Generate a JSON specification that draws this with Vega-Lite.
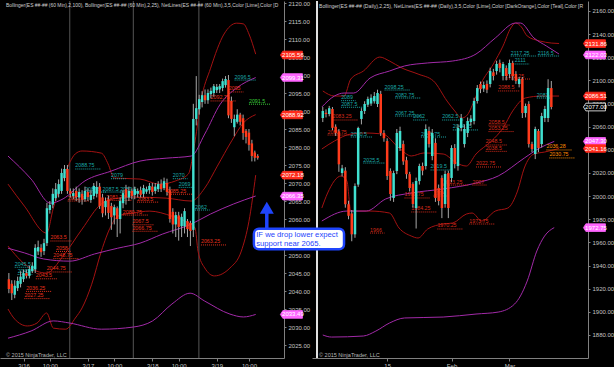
{
"$schema": "https://vega.github.io/schema/vega-lite/v6.json",
"background": "#000000",
"padding": 0,
"spacing": 28,
"bounds": "flush",
"config": {
  "view": {"stroke": null},
  "axis": {"domainColor": "#808080", "tickColor": "#808080", "labelColor": "#c4c4c4", "labelFont": "Liberation Sans", "labelFontSize": 6, "grid": false, "tickSize": 2, "labelPadding": 2, "labelOverlap": false},
  "text": {"font": "Liberation Sans"}
},
"datasets": {
  "lSess": [{"i": 20.8}, {"i": 42.5}, {"i": 64.9}],
  "lC": [
    {"i":0,"o":2043.3,"h":2045,"l":2039.4,"c":2040.6},{"i":1,"o":2042,"h":2043,"l":2037.5,"c":2039.4},{"i":2,"o":2039,"h":2043,"l":2038,"c":2041.5},{"i":3,"o":2040.8,"h":2044,"l":2040,"c":2042.8},{"i":4,"o":2042,"h":2045.5,"l":2041,"c":2044},{"i":5,"o":2043.3,"h":2046,"l":2042.5,"c":2045},{"i":6,"o":2045,"h":2046,"l":2043.5,"c":2044.2},{"i":7,"o":2044.2,"h":2047,"l":2043.5,"c":2046.1},{"i":8,"o":2045.5,"h":2048,"l":2045,"c":2047},{"i":9,"o":2046,"h":2053,"l":2045,"c":2052},
    {"i":10,"o":2051,"h":2054,"l":2050,"c":2052.2},{"i":11,"o":2052,"h":2053,"l":2049.5,"c":2050.8},{"i":12,"o":2051.1,"h":2054.5,"l":2050,"c":2053.3},{"i":13,"o":2053.3,"h":2064.5,"l":2052.5,"c":2063},{"i":14,"o":2062.5,"h":2065,"l":2061.5,"c":2063.9},{"i":15,"o":2064,"h":2068.5,"l":2063,"c":2067},{"i":16,"o":2065.8,"h":2070,"l":2065,"c":2068.3},{"i":17,"o":2067,"h":2071,"l":2066,"c":2069.7},{"i":18,"o":2067.8,"h":2074,"l":2067,"c":2072.8},{"i":19,"o":2071.4,"h":2075,"l":2070.5,"c":2073.9},
    {"i":20,"o":2073.9,"h":2075,"l":2067,"c":2067.8},{"i":21,"o":2067.8,"h":2068.5,"l":2066,"c":2067},{"i":22,"o":2066.4,"h":2068.5,"l":2065.5,"c":2067.2},{"i":23,"o":2067.8,"h":2069,"l":2065,"c":2066.1},{"i":24,"o":2066,"h":2068.5,"l":2064.5,"c":2067.5},{"i":25,"o":2067,"h":2068,"l":2064,"c":2065.4},{"i":26,"o":2065.5,"h":2069,"l":2064.8,"c":2067.8},{"i":27,"o":2067.5,"h":2068.5,"l":2065,"c":2066.1},{"i":28,"o":2065.3,"h":2068,"l":2064.5,"c":2066.7},{"i":29,"o":2066.4,"h":2070,"l":2065.5,"c":2069.2},
    {"i":30,"o":2067,"h":2070.5,"l":2066,"c":2068.9},{"i":31,"o":2069,"h":2070,"l":2062.8,"c":2063.6},{"i":32,"o":2066,"h":2067,"l":2060.5,"c":2061.6},{"i":33,"o":2063.3,"h":2066,"l":2061,"c":2065},{"i":34,"o":2065.5,"h":2066.5,"l":2060,"c":2061.7},{"i":35,"o":2063.6,"h":2064.5,"l":2057,"c":2060.5},{"i":36,"o":2061,"h":2064,"l":2058.5,"c":2063.3},{"i":37,"o":2063,"h":2063.5,"l":2055,"c":2060},{"i":38,"o":2060,"h":2066,"l":2056,"c":2065},{"i":39,"o":2064.4,"h":2068,"l":2063,"c":2067.2},
    {"i":40,"o":2068.3,"h":2069.5,"l":2064,"c":2066.1},{"i":41,"o":2066,"h":2069,"l":2065,"c":2067.8},{"i":42,"o":2067.8,"h":2068.5,"l":2065.5,"c":2066.4},{"i":43,"o":2066.7,"h":2069,"l":2065.5,"c":2068.3},{"i":44,"o":2067,"h":2068.5,"l":2066,"c":2067.8},{"i":45,"o":2068,"h":2069,"l":2066,"c":2066.7},{"i":46,"o":2067,"h":2069.5,"l":2066,"c":2068.6},{"i":47,"o":2067.6,"h":2069,"l":2067,"c":2068.3},{"i":48,"o":2068,"h":2070,"l":2067,"c":2069.2},{"i":49,"o":2069,"h":2070,"l":2066.5,"c":2067.5},
    {"i":50,"o":2067.8,"h":2070,"l":2067,"c":2069},{"i":51,"o":2068.3,"h":2070.5,"l":2067.5,"c":2069.7},{"i":52,"o":2069.7,"h":2071,"l":2067.5,"c":2068.3},{"i":53,"o":2068.6,"h":2071.5,"l":2068,"c":2070.5},{"i":54,"o":2070,"h":2071.2,"l":2066.5,"c":2067.5},{"i":55,"o":2068,"h":2069,"l":2059,"c":2060},{"i":56,"o":2062,"h":2063,"l":2056,"c":2058.5},{"i":57,"o":2058.5,"h":2062,"l":2055,"c":2061.1},{"i":58,"o":2061,"h":2062,"l":2054,"c":2057.8},{"i":59,"o":2058,"h":2061.5,"l":2055,"c":2060.6},
    {"i":60,"o":2058,"h":2063,"l":2056,"c":2062.2},{"i":61,"o":2059.4,"h":2060,"l":2055,"c":2057.2},{"i":62,"o":2058.9,"h":2059.5,"l":2052.5,"c":2056.7},{"i":63,"o":2057,"h":2092,"l":2055,"c":2087.8},{"i":64,"o":2087.8,"h":2099.7,"l":2086,"c":2090.8},{"i":65,"o":2090.5,"h":2094.5,"l":2089,"c":2093.3},{"i":66,"o":2092.5,"h":2095.5,"l":2091,"c":2094.4},{"i":67,"o":2094.4,"h":2096,"l":2092,"c":2093},{"i":68,"o":2093,"h":2096,"l":2092,"c":2095},{"i":69,"o":2094.7,"h":2096.5,"l":2093.5,"c":2095.6},
    {"i":70,"o":2095,"h":2097.5,"l":2094,"c":2096.9},{"i":71,"o":2095.8,"h":2097.5,"l":2095,"c":2096.7},{"i":72,"o":2096,"h":2097.5,"l":2095,"c":2096.9},{"i":73,"o":2096.4,"h":2099,"l":2095.5,"c":2098.3},{"i":74,"o":2097.2,"h":2099.7,"l":2096.5,"c":2098.9},{"i":75,"o":2098.6,"h":2100,"l":2088,"c":2088.8},{"i":76,"o":2092.8,"h":2094,"l":2086.7,"c":2087.8},{"i":77,"o":2085.5,"h":2089,"l":2083,"c":2087.8},{"i":78,"o":2087,"h":2090.5,"l":2086.5,"c":2089},{"i":79,"o":2089,"h":2089.5,"l":2086,"c":2087},
    {"i":80,"o":2088,"h":2089,"l":2082,"c":2083.9},{"i":81,"o":2084.5,"h":2085,"l":2081,"c":2082.8},{"i":82,"o":2084,"h":2085,"l":2079,"c":2080.6},{"i":83,"o":2081,"h":2082,"l":2076,"c":2077.5},{"i":84,"o":2078.5,"h":2079,"l":2076,"c":2077},{"i":85,"o":2077.5,"h":2078,"l":2076.5,"c":2077}
  ],
  "lBands": [
    {"b":"u25","i":-0.3,"p":2069.7},{"b":"u25","i":5.3,"p":2063.6},{"b":"u25","i":12.9,"p":2056.1},{"b":"u25","i":15.2,"p":2063.1},{"b":"u25","i":19.1,"p":2072.5},{"b":"u25","i":22.7,"p":2078.1},{"b":"u25","i":25,"p":2078.9},{"b":"u25","i":31.6,"p":2078.3},{"b":"u25","i":33.9,"p":2075.3},{"b":"u25","i":35.9,"p":2071.4},{"b":"u25","i":44.8,"p":2071.1},{"b":"u25","i":51.4,"p":2069.7},{"b":"u25","i":57,"p":2070.6},{"b":"u25","i":61.3,"p":2072.5},{"b":"u25","i":63.6,"p":2081.7},{"b":"u25","i":65.6,"p":2092.8},{"b":"u25","i":68.9,"p":2101.9},{"b":"u25","i":73.5,"p":2111.4},{"b":"u25","i":77.8,"p":2114.4},{"b":"u25","i":80.1,"p":2114.2},{"b":"u25","i":82,"p":2111.4},{"b":"u25","i":84.3,"p":2105.8},
    {"b":"m25","i":-0.3,"p":2052.5},{"b":"m25","i":6.3,"p":2046.9},{"b":"m25","i":12.9,"p":2045},{"b":"m25","i":18.5,"p":2049.7},{"b":"m25","i":25,"p":2057.2},{"b":"m25","i":31.6,"p":2064.2},{"b":"m25","i":37.2,"p":2065.8},{"b":"m25","i":42.5,"p":2066.1},{"b":"m25","i":53.7,"p":2065.8},{"b":"m25","i":62.3,"p":2065},{"b":"m25","i":66.9,"p":2068.6},{"b":"m25","i":71.2,"p":2074.7},{"b":"m25","i":76.1,"p":2081.7},{"b":"m25","i":80.1,"p":2086.7},{"b":"m25","i":84.3,"p":2089},
    {"b":"l25","i":-0.3,"p":2035},{"b":"l25","i":2,"p":2032.2},{"b":"l25","i":6.3,"p":2030.3},{"b":"l25","i":9.6,"p":2031.1},{"b":"l25","i":12.9,"p":2033.9},{"b":"l25","i":15.2,"p":2029.7},{"b":"l25","i":19.4,"p":2029.4},{"b":"l25","i":22.7,"p":2032.5},{"b":"l25","i":25,"p":2035.3},{"b":"l25","i":28.3,"p":2041.9},{"b":"l25","i":31.6,"p":2051.1},{"b":"l25","i":34.9,"p":2058.1},{"b":"l25","i":37.2,"p":2060.8},{"b":"l25","i":42.5,"p":2061.7},{"b":"l25","i":48.1,"p":2062.2},{"b":"l25","i":55.7,"p":2060.8},{"b":"l25","i":60.3,"p":2059.4},{"b":"l25","i":63.6,"p":2057.5},{"b":"l25","i":64.6,"p":2051.1},{"b":"l25","i":66.9,"p":2046.4},{"b":"l25","i":70.2,"p":2044.2},{"b":"l25","i":75.5,"p":2046.4},{"b":"l25","i":79.4,"p":2051.1},{"b":"l25","i":82,"p":2059.4},{"b":"l25","i":84.3,"p":2072.2},
    {"b":"u100","i":-0.3,"p":2077.5},{"b":"u100","i":7.6,"p":2071.1},{"b":"u100","i":14.2,"p":2064.4},{"b":"u100","i":18.5,"p":2065.6},{"b":"u100","i":26,"p":2070.6},{"b":"u100","i":34.9,"p":2073.3},{"b":"u100","i":44.8,"p":2076.1},{"b":"u100","i":53.7,"p":2076.9},{"b":"u100","i":62.3,"p":2077.5},{"b":"u100","i":66.9,"p":2083.6},{"b":"u100","i":72.2,"p":2091.9},{"b":"u100","i":77.8,"p":2096.4},{"b":"u100","i":84.3,"p":2099.3},
    {"b":"m100","i":-0.3,"p":2051.9},{"b":"m100","i":5.3,"p":2050.6},{"b":"m100","i":11.9,"p":2048.9},{"b":"m100","i":20.8,"p":2048.3},{"b":"m100","i":29.3,"p":2050.3},{"b":"m100","i":37.2,"p":2051.9},{"b":"m100","i":44.8,"p":2053.3},{"b":"m100","i":52.4,"p":2055.8},{"b":"m100","i":62.3,"p":2058.6},{"b":"m100","i":68.9,"p":2061.4},{"b":"m100","i":76.8,"p":2064.2},{"b":"m100","i":84.3,"p":2066.4},
    {"b":"l100","i":-0.3,"p":2026.9},{"b":"l100","i":7.6,"p":2028.9},{"b":"l100","i":15.2,"p":2031.7},{"b":"l100","i":20.8,"p":2031.1},{"b":"l100","i":31.6,"p":2029.4},{"b":"l100","i":42.5,"p":2030},{"b":"l100","i":49.1,"p":2031.7},{"b":"l100","i":55.7,"p":2036.4},{"b":"l100","i":61.9,"p":2039.4},{"b":"l100","i":66.9,"p":2037.2},{"b":"l100","i":75.5,"p":2033.6},{"b":"l100","i":80.1,"p":2032.8},{"b":"l100","i":84.3,"p":2033.5}
  ],
  "lNet": [
    {"i":77.1,"i2":84.4,"p":2098.6,"t":"2096.5","k":"teal"},{"i":22.7,"i2":31.3,"p":2073.9,"t":"2088.75","k":"teal"},{"i":26,"i2":33.3,"p":2067.5,"t":"2087.5","k":"teal"},{"i":32,"i2":39.3,"p":2067.5,"t":"2087.5","k":"teal"},{"i":38,"i2":45.3,"p":2067.5,"t":"2087.5","k":"teal"},{"i":34.9,"i2":39.9,"p":2071.2,"t":"2079","k":"teal"},{"i":56,"i2":61,"p":2071.2,"t":"2070","k":"teal"},{"i":58,"i2":63.5,"p":2068.8,"t":"2069","k":"teal"},{"i":63.6,"i2":68.6,"p":2062.5,"t":"2062","k":"teal"},{"i":2,"i2":9.3,"p":2046.6,"t":"2045.5","k":"teal"},{"i":3,"i2":8,"p":2044.6,"t":"2043","k":"teal"},
    {"i":75.1,"i2":80.1,"p":2095.3,"t":"2095","k":"red"},{"i":68.9,"i2":77.5,"p":2092.8,"t":"2092.75","k":"red"},{"i":20.1,"i2":27.4,"p":2065,"t":"2082.5","k":"red"},{"i":33.3,"i2":41.9,"p":2065.2,"t":"2081.75","k":"red"},{"i":43.8,"i2":51.1,"p":2064.7,"t":"2083.5","k":"red"},{"i":54,"i2":62.6,"p":2066.9,"t":"2085.25","k":"red"},{"i":38.9,"i2":47.5,"p":2061.1,"t":"2080.75","k":"red"},{"i":42.2,"i2":49.5,"p":2058.4,"t":"2067.5","k":"red"},{"i":42.2,"i2":50.8,"p":2056.6,"t":"2066.75","k":"red"},{"i":65.6,"i2":74.2,"p":2052.8,"t":"2063.25","k":"red"},{"i":14.2,"i2":21.5,"p":2053.9,"t":"2063.5","k":"red"},{"i":16.1,"i2":21.1,"p":2051,"t":"2058","k":"red"},{"i":15.2,"i2":23.8,"p":2049,"t":"2048.75","k":"red"},{"i":12.9,"i2":21.5,"p":2045.3,"t":"2044.75","k":"red"},{"i":9.2,"i2":16.5,"p":2043.4,"t":"2043.5","k":"red"},{"i":5.9,"i2":14.5,"p":2039.9,"t":"2036.25","k":"red"},{"i":5.3,"i2":13.9,"p":2037.9,"t":"2027.25","k":"red"},
    {"i":82,"i2":89.3,"p":2091.9,"t":"2091.5","k":"green"}
  ],
  "lTags": [
    {"p":2105.56,"t":"2105.56","k":"red"},{"p":2099.31,"t":"2099.31","k":"pink"},{"p":2088.92,"t":"2088.92","k":"red"},{"p":2072.18,"t":"2072.18","k":"red"},{"p":2066.35,"t":"2066.35","k":"pink"},{"p":2033.49,"t":"2033.49","k":"pink"}
  ],
  "rC": [
    {"i":0,"o":2067.5,"h":2077,"l":2064,"c":2073.6},{"i":1,"o":2072,"h":2075,"l":2068,"c":2071},{"i":2,"o":2071,"h":2078,"l":2069,"c":2076},{"i":3,"o":2075.3,"h":2077,"l":2057,"c":2059},{"i":4,"o":2060,"h":2062,"l":2052,"c":2054.6},{"i":5,"o":2056,"h":2058,"l":2021,"c":2027.5},{"i":6,"o":2020,"h":2027,"l":2017,"c":2024},{"i":7,"o":2022,"h":2025,"l":1990,"c":1993},{"i":8,"o":1993,"h":1996,"l":1980,"c":1983},{"i":9,"o":1985,"h":1988,"l":1961,"c":1967},
    {"i":10,"o":1967,"h":2011,"l":1964,"c":2008.7},{"i":11,"o":2010,"h":2060,"l":2008,"c":2058.9},{"i":12,"o":2066.7,"h":2076,"l":2062,"c":2073.6},{"i":13,"o":2073.6,"h":2082,"l":2071,"c":2079.6},{"i":14,"o":2079,"h":2086,"l":2077,"c":2084},{"i":15,"o":2080,"h":2088,"l":2078,"c":2085},{"i":16,"o":2082,"h":2090,"l":2080,"c":2086.5},{"i":17,"o":2079.6,"h":2092,"l":2077,"c":2089.1},{"i":18,"o":2088.3,"h":2091,"l":2052,"c":2054.6},{"i":19,"o":2054.6,"h":2057,"l":2047,"c":2050},
    {"i":20,"o":2047.6,"h":2050,"l":2014,"c":2017.4},{"i":21,"o":2021.7,"h":2024,"l":1996,"c":2001.8},{"i":22,"o":1998.4,"h":2022,"l":1995,"c":2019.9},{"i":23,"o":2021.7,"h":2058,"l":2019,"c":2054.6},{"i":24,"o":2041.6,"h":2060,"l":2039,"c":2056.3},{"i":25,"o":2045,"h":2048,"l":2027,"c":2030},{"i":26,"o":2031,"h":2034,"l":2015,"c":2019},{"i":27,"o":2019,"h":2021,"l":2004,"c":2007},{"i":28,"o":2010.5,"h":2012,"l":1990,"c":1993.2},{"i":29,"o":1989.7,"h":2016,"l":1972,"c":2013.1},
    {"i":30,"o":2013,"h":2028,"l":2010,"c":2026},{"i":31,"o":2026,"h":2029,"l":2018,"c":2022},{"i":32,"o":2026,"h":2062,"l":2023,"c":2058},{"i":33,"o":2056.3,"h":2060,"l":2042,"c":2045},{"i":34,"o":2034.7,"h":2058,"l":2031,"c":2054.6},{"i":35,"o":2046,"h":2050,"l":1995,"c":1998.4},{"i":36,"o":2007,"h":2010,"l":1992,"c":1995.8},{"i":37,"o":2015.7,"h":2018,"l":1981,"c":1989.7},{"i":38,"o":1993.2,"h":2022,"l":1990,"c":2019.1},{"i":39,"o":2019.9,"h":2022,"l":1981,"c":1989.7},
    {"i":40,"o":2015.7,"h":2044,"l":2012,"c":2041.6},{"i":41,"o":2041.6,"h":2045,"l":2024,"c":2027.7},{"i":42,"o":2026,"h":2062,"l":2022,"c":2058.9},{"i":43,"o":2058.9,"h":2071,"l":2056,"c":2067.5},{"i":44,"o":2045,"h":2062,"l":2042,"c":2058},{"i":45,"o":2054.6,"h":2068,"l":2051,"c":2064.9},{"i":46,"o":2064,"h":2070,"l":2061,"c":2067},{"i":47,"o":2064.9,"h":2085,"l":2062,"c":2082.2},{"i":48,"o":2082.2,"h":2096,"l":2080,"c":2093.4},{"i":49,"o":2096.9,"h":2099,"l":2089,"c":2092.5},
    {"i":50,"o":2093,"h":2099,"l":2090,"c":2096},{"i":51,"o":2097,"h":2100,"l":2089,"c":2092},{"i":52,"o":2096.9,"h":2111,"l":2094,"c":2108.1},{"i":53,"o":2107,"h":2110,"l":2100,"c":2103.8},{"i":54,"o":2108.1,"h":2117,"l":2105,"c":2114.2},{"i":55,"o":2115.1,"h":2118,"l":2107,"c":2110.7},{"i":56,"o":2103.8,"h":2116,"l":2100,"c":2114.2},{"i":57,"o":2110.7,"h":2113,"l":2100,"c":2103.8},{"i":58,"o":2105.5,"h":2118,"l":2102,"c":2115.1},{"i":59,"o":2115.1,"h":2117,"l":2100,"c":2103.8},
    {"i":60,"o":2105.5,"h":2108,"l":2097,"c":2099.5},{"i":61,"o":2096.9,"h":2103,"l":2094,"c":2101.2},{"i":62,"o":2101.2,"h":2103,"l":2067.5,"c":2071.8},{"i":63,"o":2071.8,"h":2080,"l":2068,"c":2077.9},{"i":64,"o":2079.6,"h":2082,"l":2042,"c":2045},{"i":65,"o":2045,"h":2047,"l":2038,"c":2040.7},{"i":66,"o":2036.4,"h":2060,"l":2032,"c":2058},{"i":67,"o":2056.3,"h":2058,"l":2038,"c":2041.6},{"i":68,"o":2045,"h":2072,"l":2042,"c":2069.2},{"i":69,"o":2067.5,"h":2078,"l":2064,"c":2075.3},
    {"i":70,"o":2067.5,"h":2101,"l":2064,"c":2093.4},{"i":71,"o":2093.4,"h":2099.5,"l":2075,"c":2077}
  ],
  "rBands": [
    {"b":"u25","i":0,"p":2090.9},{"b":"u25","i":3.6,"p":2086.5},{"b":"u25","i":6.6,"p":2086.5},{"b":"u25","i":8.7,"p":2101.2},{"b":"u25","i":12.6,"p":2108.1},{"b":"u25","i":17.7,"p":2120.2},{"b":"u25","i":20.7,"p":2116.8},{"b":"u25","i":24.6,"p":2110.7},{"b":"u25","i":29.6,"p":2105.5},{"b":"u25","i":34.4,"p":2099.5},{"b":"u25","i":38.6,"p":2082.2},{"b":"u25","i":41,"p":2073.6},{"b":"u25","i":43.1,"p":2067.5},{"b":"u25","i":44.6,"p":2069.2},{"b":"u25","i":47,"p":2082.2},{"b":"u25","i":49.1,"p":2096.9},{"b":"u25","i":53,"p":2114.2},{"b":"u25","i":56,"p":2129.8},{"b":"u25","i":58.4,"p":2145.3},{"b":"u25","i":59.9,"p":2149.6},{"b":"u25","i":61.7,"p":2146.2},{"b":"u25","i":63.5,"p":2138.4},{"b":"u25","i":67.4,"p":2134.1},{"b":"u25","i":71,"p":2132.3},{"b":"u25","i":73.4,"p":2131.9},
    {"b":"m25","i":-0.3,"p":2040.7},{"b":"m25","i":3.6,"p":2047.6},{"b":"m25","i":8.7,"p":2053.7},{"b":"m25","i":12.6,"p":2054.6},{"b":"m25","i":18.6,"p":2053.7},{"b":"m25","i":23.7,"p":2041.6},{"b":"m25","i":27.5,"p":2034.7},{"b":"m25","i":31.4,"p":2037.3},{"b":"m25","i":37.4,"p":2036.4},{"b":"m25","i":41.6,"p":2028.6},{"b":"m25","i":44.6,"p":2026},{"b":"m25","i":47.6,"p":2036.4},{"b":"m25","i":52.4,"p":2047.6},{"b":"m25","i":56,"p":2058.9},{"b":"m25","i":59,"p":2073.6},{"b":"m25","i":62.9,"p":2084.8},{"b":"m25","i":68,"p":2086.5},{"b":"m25","i":73.4,"p":2086.5},
    {"b":"l25","i":-0.3,"p":1989.7},{"b":"l25","i":1.5,"p":2002.7},{"b":"l25","i":5.7,"p":2017.4},{"b":"l25","i":7.5,"p":2013.1},{"b":"l25","i":8.7,"p":1987.1},{"b":"l25","i":14.7,"p":1987.1},{"b":"l25","i":20.7,"p":1985.4},{"b":"l25","i":23.7,"p":1972.4},{"b":"l25","i":27.5,"p":1965.5},{"b":"l25","i":29.6,"p":1963.8},{"b":"l25","i":32.6,"p":1971.6},{"b":"l25","i":37.4,"p":1975.9},{"b":"l25","i":40.4,"p":1976.8},{"b":"l25","i":44.6,"p":1984.5},{"b":"l25","i":46.4,"p":1985.4},{"b":"l25","i":49.4,"p":1978.5},{"b":"l25","i":53.6,"p":1987.1},{"b":"l25","i":57.5,"p":1989.7},{"b":"l25","i":60.5,"p":2004.4},{"b":"l25","i":62.6,"p":2024.3},{"b":"l25","i":65.6,"p":2036.4},{"b":"l25","i":68.9,"p":2038.1},{"b":"l25","i":73.4,"p":2041.2},
    {"b":"u100","i":-0.3,"p":2077},{"b":"u100","i":3.6,"p":2086.5},{"b":"u100","i":6.6,"p":2089.1},{"b":"u100","i":9.6,"p":2089.1},{"b":"u100","i":14.7,"p":2102.1},{"b":"u100","i":20.7,"p":2108.1},{"b":"u100","i":25.4,"p":2112.5},{"b":"u100","i":32.6,"p":2115.1},{"b":"u100","i":40.4,"p":2116.8},{"b":"u100","i":47.6,"p":2122.8},{"b":"u100","i":53.6,"p":2136.7},{"b":"u100","i":59.9,"p":2149.6},{"b":"u100","i":61.4,"p":2149.6},{"b":"u100","i":65.6,"p":2136.7},{"b":"u100","i":69.5,"p":2129.7},{"b":"u100","i":73.4,"p":2122.8},
    {"b":"m100","i":-0.3,"p":1978.5},{"b":"m100","i":7.5,"p":1987.1},{"b":"m100","i":13.5,"p":1987.1},{"b":"m100","i":19.5,"p":1997.5},{"b":"m100","i":27.5,"p":2002.7},{"b":"m100","i":37.4,"p":2006.2},{"b":"m100","i":47.6,"p":2011.3},{"b":"m100","i":54.5,"p":2017.4},{"b":"m100","i":62.6,"p":2032.9},{"b":"m100","i":67.4,"p":2041.6},{"b":"m100","i":71.9,"p":2047.3},
    {"b":"l100","i":0,"p":1880},{"b":"l100","i":2.7,"p":1878.2},{"b":"l100","i":12.6,"p":1879.1},{"b":"l100","i":16.5,"p":1883.4},{"b":"l100","i":20.7,"p":1890.3},{"b":"l100","i":25.4,"p":1894.7},{"b":"l100","i":37.4,"p":1895.5},{"b":"l100","i":47.6,"p":1898.1},{"b":"l100","i":54.5,"p":1899.8},{"b":"l100","i":59.6,"p":1906.8},{"b":"l100","i":61.4,"p":1913.7},{"b":"l100","i":63.5,"p":1926.6},{"b":"l100","i":66.5,"p":1952.6},{"b":"l100","i":68.9,"p":1965.5},{"b":"l100","i":71.9,"p":1972.8}
  ],
  "rNet": [
    {"i":58.4,"i2":66.2,"p":2121.1,"t":"2117.25","k":"teal"},{"i":66.8,"i2":73.4,"p":2121.1,"t":"2116.5","k":"teal"},{"i":59.6,"i2":64.1,"p":2114.2,"t":"2111","k":"teal"},{"i":19.2,"i2":27,"p":2091.7,"t":"2098.25","k":"teal"},{"i":22.5,"i2":30.3,"p":2084.8,"t":"2082.75","k":"teal"},{"i":5.7,"i2":10.2,"p":2082.5,"t":"2089","k":"teal"},{"i":5.7,"i2":12.3,"p":2076.8,"t":"2087.5","k":"teal"},{"i":22.5,"i2":30.3,"p":2069.2,"t":"2067.25","k":"teal"},{"i":28.1,"i2":32.6,"p":2065.8,"t":"2062","k":"teal"},{"i":37.1,"i2":43.7,"p":2065.8,"t":"2062.5","k":"teal"},{"i":66.5,"i2":71,"p":2084.8,"t":"2081","k":"teal"},{"i":8.7,"i2":15.3,"p":2051.1,"t":"2050.5","k":"teal"},{"i":30.5,"i2":38.3,"p":2051.1,"t":"2046.75","k":"teal"},{"i":40.4,"i2":48.2,"p":2057.2,"t":"2044.75","k":"teal"},{"i":12.6,"i2":19.2,"p":2028.6,"t":"2025.5","k":"teal"},{"i":33.5,"i2":40.1,"p":2022.6,"t":"2019.5","k":"teal"},
    {"i":56.6,"i2":64.4,"p":2101.2,"t":"2102.25","k":"red"},{"i":54.5,"i2":61.1,"p":2090.9,"t":"2088.5","k":"red"},{"i":3,"i2":10.8,"p":2065.8,"t":"2083.25","k":"red"},{"i":1.5,"i2":9.3,"p":2052.8,"t":"2053.75","k":"red"},{"i":51.5,"i2":58.1,"p":2061.4,"t":"2058.5","k":"red"},{"i":51.5,"i2":59.3,"p":2055.8,"t":"2053.25","k":"red"},{"i":50.6,"i2":57.2,"p":2044.2,"t":"2048.5","k":"red"},{"i":50.6,"i2":57.2,"p":2038.7,"t":"2038.5","k":"red"},{"i":47.6,"i2":55.4,"p":2025.2,"t":"2022.75","k":"red"},{"i":37.4,"i2":45.2,"p":2009.6,"t":"2013.25","k":"red"},{"i":46.5,"i2":51,"p":2009.6,"t":"2007","k":"red"},{"i":25.4,"i2":33.2,"p":1998.4,"t":"1990.75","k":"red"},{"i":34.4,"i2":38.9,"p":2000.1,"t":"1994","k":"red"},{"i":27.5,"i2":35.3,"p":1986.3,"t":"1984.25","k":"red"},{"i":35.6,"i2":43.4,"p":1971.6,"t":"1970.25","k":"red"},{"i":45.5,"i2":53.3,"p":1975.9,"t":"1973.75","k":"red"},{"i":14.7,"i2":19.2,"p":1968.1,"t":"1966","k":"red"},
    {"i":69.5,"i2":77.3,"p":2039.9,"t":"2036.28","k":"orange"},{"i":70.4,"i2":78.2,"p":2033,"t":"2030.75","k":"orange"}
  ],
  "rTags": [
    {"p":2131.86,"t":"2131.86","k":"red"},{"p":2122.03,"t":"2122.03","k":"pink"},{"p":2086.51,"t":"2086.51","k":"red"},{"p":2077.0,"t":"2077.00","k":"black"},{"p":2047.3,"t":"2047.30","k":"pink"},{"p":2041.16,"t":"2041.16","k":"red"},{"p":1972.75,"t":"1972.75","k":"pink"}
  ]
},
"hconcat": [
  {
    "width": 284, "height": 357,
    "resolve": {"scale": {"color": "independent", "fill": "independent", "stroke": "independent"}},
    "layer": [
      {"data": {"name": "lSess"}, "mark": {"type": "rule", "color": "#555555", "strokeWidth": 1},
       "encoding": {"x": {"field": "i", "type": "quantitative", "scale": {"domain": [-1.32, 92.26], "nice": false, "zero": false},
         "axis": {"orient": "bottom", "title": null, "values": [5,14,27,36,49,58,71,82], "tickCount": 40, "labelExpr": "['3/16','10:00','3/17','10:00','3/18','10:00','3/19','10:00'][indexof([5,14,27,36,49,58,71,82], datum.value)]", "tickSize": 3, "labelPadding": 1, "labelOverlap": false}}}},
      {"data": {"name": "lBands"}, "mark": {"type": "line", "strokeWidth": 1, "interpolate": "monotone"},
       "encoding": {"x": {"field": "i", "type": "quantitative", "scale": {"domain": [-1.32, 92.26], "nice": false, "zero": false}},
         "y": {"field": "p", "type": "quantitative", "scale": {"domain": [2021.4, 2120.56], "nice": false, "zero": false},
           "axis": {"orient": "right", "title": null, "format": ".2f", "tickCount": 40, "labelOverlap": false, "labelFlush": false, "values": [2025,2030,2035,2040,2045,2050,2055,2060,2065,2070,2075,2080,2085,2090,2095,2100,2105,2110,2115,2120]}},
         "color": {"field": "b", "type": "nominal", "legend": null, "scale": {"domain": ["u25","m25","l25","u100","m100","l100"], "range": ["#a31212","#a31212","#a31212","#a22aa8","#a22aa8","#a22aa8"]}}}},
      {"data": {"name": "lNet"}, "mark": {"type": "rule", "strokeDash": [1, 1], "strokeWidth": 1},
       "encoding": {"x": {"field": "i", "type": "quantitative", "scale": {"domain": [-1.32, 92.26], "nice": false, "zero": false}}, "x2": {"field": "i2"},
         "y": {"field": "p", "type": "quantitative", "scale": {"domain": [2021.4, 2120.56], "nice": false, "zero": false}},
         "color": {"field": "k", "type": "nominal", "legend": null, "scale": {"domain": ["teal","red","green","orange"], "range": ["#1aa8a8","#e5301c","#3ad13a","#ff8c00"]}}}},
      {"data": {"name": "lNet"}, "mark": {"type": "text", "align": "left", "baseline": "bottom", "fontSize": 5.3, "dy": -0.5},
       "encoding": {"x": {"field": "i", "type": "quantitative", "scale": {"domain": [-1.32, 92.26], "nice": false, "zero": false}},
         "y": {"field": "p", "type": "quantitative", "scale": {"domain": [2021.4, 2120.56], "nice": false, "zero": false}},
         "text": {"field": "t"},
         "color": {"field": "k", "type": "nominal", "legend": null, "scale": {"domain": ["teal","red","green","orange"], "range": ["#1aa8a8","#e5301c","#3ad13a","#ff8c00"]}}}},
      {"data": {"name": "lC"}, "mark": {"type": "rule", "color": "#a8a8a8", "strokeWidth": 1},
       "encoding": {"x": {"field": "i", "type": "quantitative", "scale": {"domain": [-1.32, 92.26], "nice": false, "zero": false}},
         "y": {"field": "l", "type": "quantitative", "scale": {"domain": [2021.4, 2120.56], "nice": false, "zero": false}}, "y2": {"field": "h"}}},
      {"data": {"name": "lC"}, "mark": {"type": "bar", "width": 2.4, "orient": "vertical"},
       "encoding": {"x": {"field": "i", "type": "quantitative", "scale": {"domain": [-1.32, 92.26], "nice": false, "zero": false}},
         "y": {"field": "o", "type": "quantitative", "scale": {"domain": [2021.4, 2120.56], "nice": false, "zero": false}}, "y2": {"field": "c"},
         "color": {"condition": {"test": "datum.c >= datum.o", "value": "#40e0d0"}, "value": "#ff3b1c"}}},
      {"data": {"name": "lTags"}, "mark": {"type": "point", "shape": "M-1,0L-0.78,-0.35L1,-0.35L1,0.35L-0.78,0.35Z", "size": 484, "filled": true, "opacity": 1, "strokeWidth": 0.8},
       "encoding": {"x": {"datum": 96.5, "type": "quantitative", "scale": {"domain": [-1.32, 92.26], "nice": false, "zero": false}},
         "y": {"field": "p", "type": "quantitative", "scale": {"domain": [2021.4, 2120.56], "nice": false, "zero": false}},
         "fill": {"field": "k", "type": "nominal", "legend": null, "scale": {"domain": ["red","pink","black"], "range": ["#ff2b1c","#ff66ff","#000000"]}},
         "stroke": {"field": "k", "type": "nominal", "legend": null, "scale": {"domain": ["red","pink","black"], "range": ["#ff2b1c","#ff66ff","#ffffff"]}}}},
      {"data": {"name": "lTags"}, "mark": {"type": "text", "fontSize": 6, "color": "#ffffff", "align": "center", "baseline": "middle", "dx": 1.5},
       "encoding": {"x": {"datum": 96.5, "type": "quantitative", "scale": {"domain": [-1.32, 92.26], "nice": false, "zero": false}},
         "y": {"field": "p", "type": "quantitative", "scale": {"domain": [2021.4, 2120.56], "nice": false, "zero": false}},
         "text": {"field": "t"}}},
      {"data": {"values": [{"t": "Bollinger(ES ##-## (60 Min),2,100), Bollinger(ES ##-## (60 Min),2,25), NetLines(ES ##-## (60 Min),3,5,Color [Lime],Color [D"}]},
       "mark": {"type": "text", "align": "left", "baseline": "middle", "fontSize": 4.95, "color": "#d0d0d0", "clip": true, "dx": 1},
       "encoding": {"x": {"datum": -1.32, "type": "quantitative", "scale": {"domain": [-1.32, 92.26], "nice": false, "zero": false}},
         "y": {"datum": 2119.2, "type": "quantitative", "scale": {"domain": [2021.4, 2120.56], "nice": false, "zero": false}},
         "text": {"field": "t"}}},
      {"data": {"values": [{"t": "© 2015 NinjaTrader, LLC"}]},
       "mark": {"type": "text", "align": "left", "baseline": "middle", "fontSize": 5.5, "color": "#b8b8b8", "dx": 1},
       "encoding": {"x": {"datum": -1.32, "type": "quantitative", "scale": {"domain": [-1.32, 92.26], "nice": false, "zero": false}},
         "y": {"datum": 2022.3, "type": "quantitative", "scale": {"domain": [2021.4, 2120.56], "nice": false, "zero": false}},
         "text": {"field": "t"}}}
    ]
  },
  {
    "width": 276, "height": 357,
    "resolve": {"scale": {"color": "independent", "fill": "independent", "stroke": "independent"}},
    "layer": [
      {"data": {"values": [{}]}, "mark": {"type": "rule", "color": "#e0e0e0", "strokeWidth": 2},
       "encoding": {"x": {"datum": -1.8, "type": "quantitative", "scale": {"domain": [-1.8, 80.84], "nice": false, "zero": false},
         "axis": {"orient": "bottom", "title": null, "values": [20,40,58], "tickCount": 40, "labelExpr": "['15','Feb','Mar'][indexof([20,40,58], datum.value)]", "tickSize": 3, "labelPadding": 1, "labelOverlap": false}}}},
      {"data": {"name": "rBands"}, "mark": {"type": "line", "strokeWidth": 1, "interpolate": "monotone"},
       "encoding": {"x": {"field": "i", "type": "quantitative", "scale": {"domain": [-1.8, 80.84], "nice": false, "zero": false}},
         "y": {"field": "p", "type": "quantitative", "scale": {"domain": [1860.1, 2168.64], "nice": false, "zero": false},
           "axis": {"orient": "right", "title": null, "format": ".2f", "tickCount": 40, "labelOverlap": false, "labelFlush": false, "values": [1880,1900,1920,1940,1960,1980,2000,2020,2040,2060,2080,2100,2120,2140,2160]}},
         "color": {"field": "b", "type": "nominal", "legend": null, "scale": {"domain": ["u25","m25","l25","u100","m100","l100"], "range": ["#a31212","#a31212","#a31212","#a22aa8","#a22aa8","#a22aa8"]}}}},
      {"data": {"name": "rNet"}, "mark": {"type": "rule", "strokeDash": [1, 1], "strokeWidth": 1},
       "encoding": {"x": {"field": "i", "type": "quantitative", "scale": {"domain": [-1.8, 80.84], "nice": false, "zero": false}}, "x2": {"field": "i2"},
         "y": {"field": "p", "type": "quantitative", "scale": {"domain": [1860.1, 2168.64], "nice": false, "zero": false}},
         "color": {"field": "k", "type": "nominal", "legend": null, "scale": {"domain": ["teal","red","green","orange"], "range": ["#1aa8a8","#d42a1a","#3ad13a","#ff8c00"]}}}},
      {"data": {"name": "rNet"}, "mark": {"type": "text", "align": "left", "baseline": "bottom", "fontSize": 5.3, "dy": -0.5},
       "encoding": {"x": {"field": "i", "type": "quantitative", "scale": {"domain": [-1.8, 80.84], "nice": false, "zero": false}},
         "y": {"field": "p", "type": "quantitative", "scale": {"domain": [1860.1, 2168.64], "nice": false, "zero": false}},
         "text": {"field": "t"},
         "color": {"field": "k", "type": "nominal", "legend": null, "scale": {"domain": ["teal","red","green","orange"], "range": ["#1aa8a8","#d42a1a","#3ad13a","#ff8c00"]}}}},
      {"data": {"name": "rC"}, "mark": {"type": "rule", "color": "#a8a8a8", "strokeWidth": 1},
       "encoding": {"x": {"field": "i", "type": "quantitative", "scale": {"domain": [-1.8, 80.84], "nice": false, "zero": false}},
         "y": {"field": "l", "type": "quantitative", "scale": {"domain": [1860.1, 2168.64], "nice": false, "zero": false}}, "y2": {"field": "h"}}},
      {"data": {"name": "rC"}, "mark": {"type": "bar", "width": 2.5, "orient": "vertical"},
       "encoding": {"x": {"field": "i", "type": "quantitative", "scale": {"domain": [-1.8, 80.84], "nice": false, "zero": false}},
         "y": {"field": "o", "type": "quantitative", "scale": {"domain": [1860.1, 2168.64], "nice": false, "zero": false}}, "y2": {"field": "c"},
         "color": {"condition": {"test": "datum.c >= datum.o", "value": "#40e0d0"}, "value": "#ff3b1c"}}},
      {"data": {"name": "rTags"}, "mark": {"type": "point", "shape": "M-1,0L-0.78,-0.35L1,-0.35L1,0.35L-0.78,0.35Z", "size": 484, "filled": true, "opacity": 1, "strokeWidth": 0.8},
       "encoding": {"x": {"datum": 84.4, "type": "quantitative", "scale": {"domain": [-1.8, 80.84], "nice": false, "zero": false}},
         "y": {"field": "p", "type": "quantitative", "scale": {"domain": [1860.1, 2168.64], "nice": false, "zero": false}},
         "fill": {"field": "k", "type": "nominal", "legend": null, "scale": {"domain": ["red","pink","black"], "range": ["#ff2b1c","#ff66ff","#000000"]}},
         "stroke": {"field": "k", "type": "nominal", "legend": null, "scale": {"domain": ["red","pink","black"], "range": ["#ff2b1c","#ff66ff","#ffffff"]}}}},
      {"data": {"name": "rTags"}, "mark": {"type": "text", "fontSize": 6, "color": "#ffffff", "align": "center", "baseline": "middle", "dx": 1.5},
       "encoding": {"x": {"datum": 84.4, "type": "quantitative", "scale": {"domain": [-1.8, 80.84], "nice": false, "zero": false}},
         "y": {"field": "p", "type": "quantitative", "scale": {"domain": [1860.1, 2168.64], "nice": false, "zero": false}},
         "text": {"field": "t"}}},
      {"data": {"values": [{"t": "Bollinger(ES ##-## (Daily),2,25), NetLines(ES ##-## (Daily),3,5,Color [Lime],Color [DarkOrange],Color [Teal],Color [R"}]},
       "mark": {"type": "text", "align": "left", "baseline": "middle", "fontSize": 5.1, "color": "#d0d0d0", "clip": true, "dx": 2},
       "encoding": {"x": {"datum": -1.8, "type": "quantitative", "scale": {"domain": [-1.8, 80.84], "nice": false, "zero": false}},
         "y": {"datum": 2164.3, "type": "quantitative", "scale": {"domain": [1860.1, 2168.64], "nice": false, "zero": false}},
         "text": {"field": "t"}}},
      {"data": {"values": [{"t": "© 2015 NinjaTrader, LLC"}]},
       "mark": {"type": "text", "align": "left", "baseline": "middle", "fontSize": 5.5, "color": "#b8b8b8", "dx": 2},
       "encoding": {"x": {"datum": -1.8, "type": "quantitative", "scale": {"domain": [-1.8, 80.84], "nice": false, "zero": false}},
         "y": {"datum": 1862.7, "type": "quantitative", "scale": {"domain": [1860.1, 2168.64], "nice": false, "zero": false}},
         "text": {"field": "t"}}},
      {"data": {"values": [{"a": -21.4, "b": 6.6, "p": 1971.8, "q": 1954.0}]},
       "mark": {"type": "rect", "fill": "#ffffff", "stroke": "#1f45fc", "strokeWidth": 2.5, "cornerRadius": 5},
       "encoding": {"x": {"field": "a", "type": "quantitative", "scale": {"domain": [-1.8, 80.84], "nice": false, "zero": false}}, "x2": {"field": "b"},
         "y": {"field": "p", "type": "quantitative", "scale": {"domain": [1860.1, 2168.64], "nice": false, "zero": false}}, "y2": {"field": "q"}}},
      {"data": {"values": [{"a": -20.7, "p": 1964.7, "t": "IF we drop lower expect"}, {"a": -20.7, "p": 1956.9, "t": "support near 2065."}]},
       "mark": {"type": "text", "align": "left", "baseline": "alphabetic", "fontSize": 7.7, "color": "#1f45fc", "font": "Liberation Sans"},
       "encoding": {"x": {"field": "a", "type": "quantitative", "scale": {"domain": [-1.8, 80.84], "nice": false, "zero": false}},
         "y": {"field": "p", "type": "quantitative", "scale": {"domain": [1860.1, 2168.64], "nice": false, "zero": false}},
         "text": {"field": "t"}}},
      {"data": {"values": [{"a": -17.4, "p": 1971.6, "q": 1987.5}]},
       "mark": {"type": "rule", "color": "#1f45fc", "strokeWidth": 3.5},
       "encoding": {"x": {"field": "a", "type": "quantitative", "scale": {"domain": [-1.8, 80.84], "nice": false, "zero": false}},
         "y": {"field": "p", "type": "quantitative", "scale": {"domain": [1860.1, 2168.64], "nice": false, "zero": false}}, "y2": {"field": "q"}}},
      {"data": {"values": [{"a": -17.4, "p": 1990.0}]},
       "mark": {"type": "point", "shape": "triangle-up", "size": 196, "filled": true, "opacity": 1, "color": "#1f45fc"},
       "encoding": {"x": {"field": "a", "type": "quantitative", "scale": {"domain": [-1.8, 80.84], "nice": false, "zero": false}},
         "y": {"field": "p", "type": "quantitative", "scale": {"domain": [1860.1, 2168.64], "nice": false, "zero": false}}}}
    ]
  }
]
}
